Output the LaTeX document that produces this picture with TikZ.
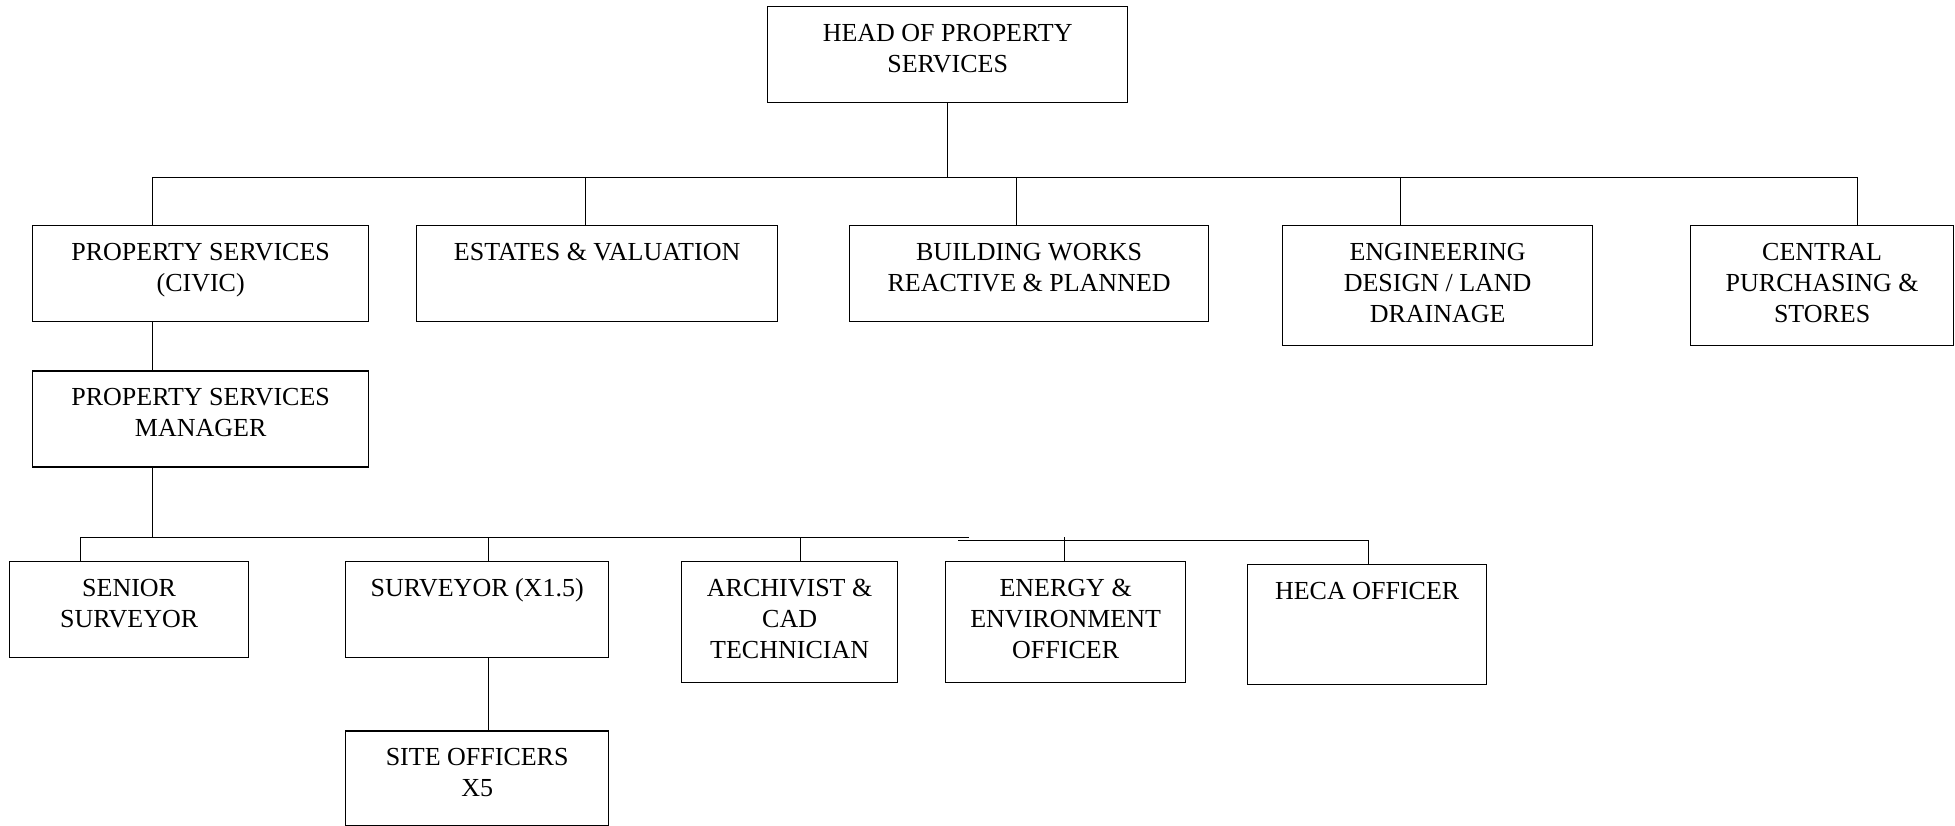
\documentclass[tikz,border=0pt]{standalone}
\usepackage{fontspec}
\setmainfont{Liberation Serif}
\usetikzlibrary{positioning}

% text sits at the top of each box
\newcommand{\boxtext}[3]{\parbox[t][#2][t]{#1}{\centering\rule{0pt}{35pt}#3}}

\begin{document}
\begin{tikzpicture}[
  x=1pt, y=-1pt,
  post/.style={draw, line width=1.3pt, inner sep=0pt, anchor=north west, font=\fontsize{26}{31}\selectfont},
  link/.style={draw, line width=1pt},
  node distance=48pt
]
\useasboundingbox (0,0) rectangle (1955,825);

% Head
\node[post] (head) at (767,6) {\boxtext{360pt}{96pt}{HEAD OF PROPERTY\\SERVICES}};

% Sections
\node[post] (civic) at (32,225) {\boxtext{336pt}{96pt}{PROPERTY SERVICES\\(CIVIC)}};
\node[post] (estates) at (416,225) {\boxtext{361pt}{96pt}{ESTATES \& VALUATION}};
\node[post] (building) at (849,225) {\boxtext{359pt}{96pt}{BUILDING WORKS\\REACTIVE \& PLANNED}};
\node[post] (engineering) at (1282,225) {\boxtext{310pt}{120pt}{ENGINEERING\\DESIGN / LAND\\DRAINAGE}};
\node[post] (central) at (1690,225) {\boxtext{263pt}{120pt}{CENTRAL\\PURCHASING \&\\STORES}};

% Manager
\node[post, below=48pt of civic, anchor=north] (manager) {\boxtext{336pt}{96pt}{PROPERTY SERVICES\\MANAGER}};

% Staff
\node[post] (senior) at (9,561) {\boxtext{239pt}{96pt}{SENIOR\\SURVEYOR}};
\node[post] (surveyor) at (345,561) {\boxtext{263pt}{96pt}{SURVEYOR (X1.5)}};
\node[post] (archivist) at (681,561) {\boxtext{216pt}{121pt}{ARCHIVIST \&\\CAD\\TECHNICIAN}};
\node[post] (energy) at (945,561) {\boxtext{240pt}{121pt}{ENERGY \&\\ENVIRONMENT\\OFFICER}};
\node[post] (heca) at (1247,564) {\boxtext{239pt}{120pt}{HECA OFFICER}};
\node[post, below=72pt of surveyor, anchor=north] (site) {\boxtext{263pt}{95pt}{SITE OFFICERS\\X5}};

% Upper bus
\coordinate (busL) at (152,177);
\coordinate (busR) at (1857,177);
\draw[link] (head.south) -- (head.south |- busL);
\draw[link] (busL) -- (busR);
\foreach \x/\n in {152/civic, 585/estates, 1016/building, 1400/engineering, 1857/central}
  \draw[link] (\x,177) -- (\x,177 |- \n.north);

% Manager link
\coordinate (lowL) at (80,537);
\coordinate (lowM) at (969,537);
\coordinate (stepL) at (958,540);
\coordinate (stepR) at (1368,540);
\draw[link] (152,0 |- civic.south) -- (152,0 |- manager.north);
\draw[link] (152,0 |- manager.south) -- (152,537);

% Lower bus
\draw[link] (lowL) -- (lowM);
\draw[link] (stepL) -- (stepR);
\foreach \x/\n in {80/senior, 488/surveyor, 800/archivist, 1064/energy}
  \draw[link] (\x,537) -- (\x,537 |- \n.north);
\draw[link] (stepR) -- (stepR |- heca.north);

% Site officers
\draw[link] (488,0 |- surveyor.south) -- (488,0 |- site.north);

\end{tikzpicture}
\end{document}
